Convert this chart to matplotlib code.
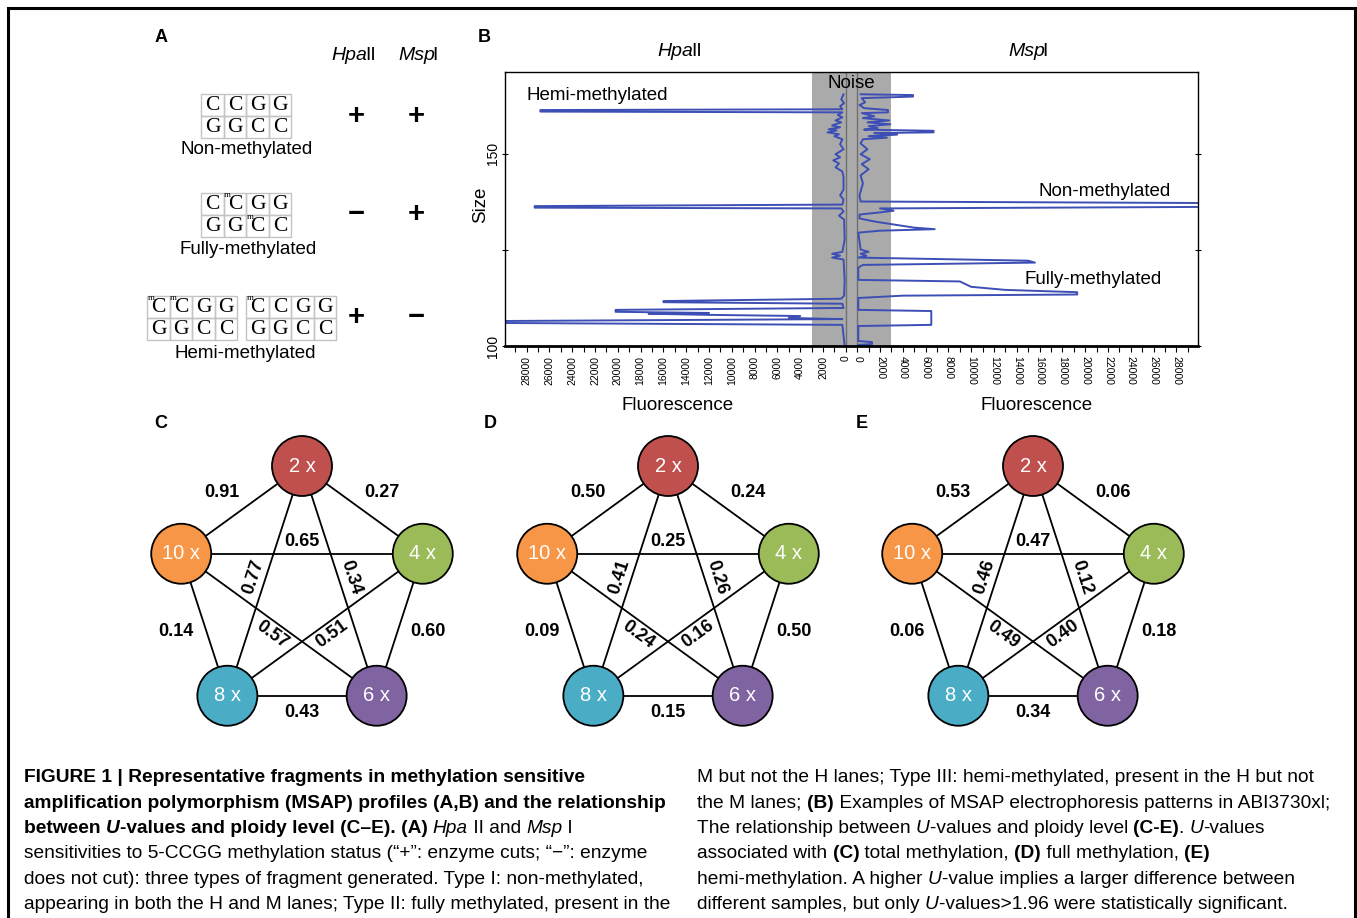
import matplotlib
matplotlib.use('Agg')
import matplotlib.pyplot as plt
from matplotlib.patches import Circle, Rectangle
import numpy as np

plt.rcParams['font.family'] = ['Liberation Sans', 'DejaVu Sans']

W, H = 1357, 918

# ---------------- panel A: CCGG sites
SITE_NAMES = ['Non-methylated', 'Fully-methylated', 'Hemi-methylated']
TOP_STRAND = ['C', 'C', 'G', 'G']
BOT_STRAND = ['G', 'G', 'C', 'C']
# methylation flags per grid: (top, bottom)
NON_METH = [([0, 0, 0, 0], [0, 0, 0, 0])]
FULL_METH = [([0, 1, 0, 0], [0, 0, 1, 0])]
HEMI_METH = [([1, 1, 0, 0], [0, 0, 0, 0]), ([1, 0, 0, 0], [0, 0, 0, 0])]
HPA_CUT = ['+', '\u2212', '+']
MSP_CUT = ['+', '+', '\u2212']

# ---------------- panel B: electropherogram traces (size in bp, fluorescence)
HPA_SIZE = [165.5, 164.2, 163.2, 162.4, 161.6, 161.4, 161.0, 160.8, 160.1, 159.5,
            158.7, 158.2, 157.4, 156.9, 156.4, 156.1, 155.6, 155.1, 154.6, 153.8,
            152.5, 151.2, 149.9, 149.1, 148.3, 147.5, 146.5, 145.4, 143.9, 140.7,
            139.2, 138.1, 136.8, 136.4, 136.0, 135.8, 135.0, 133.9, 132.9, 127.7,
            124.5, 124.0, 123.5, 123.0, 122.5, 117.2, 113.1, 112.3, 111.7, 111.4,
            111.0, 109.9, 109.4, 108.9, 108.6, 108.4, 108.1, 107.8, 107.3, 107.0,
            106.5, 106.0, 105.5, 100.0]
HPA_FLUOR = [200, 400, 150, 500, 300, 26800, 26800, 300, 700, 300,
             900, 400, 1200, 500, 1500, 800, 1600, 600, 1000, 300,
             500, 200, 900, 500, 1100, 600, 900, 300, 200, 200,
             500, 200, 300, 27300, 27300, 400, 200, 600, 150, 100,
             300, 1200, 500, 1200, 200, 100, 150, 400, 16000, 16000,
             300, 200, 20200, 20200, 12000, 17300, 12000, 4000, 5000, 300,
             30500, 30500, 300, 100]

MSP_SIZE = [165.5, 165.3, 164.9, 164.5, 163.4, 162.7, 161.9, 161.4, 160.8, 160.6,
            159.8, 159.3, 158.7, 158.2, 157.7, 157.2, 156.7, 156.3, 156.0, 155.6,
            155.4, 155.0, 154.6, 154.2, 153.8, 152.7, 151.2, 149.9, 148.6, 147.3,
            146.0, 144.4, 142.3, 139.2, 137.6, 137.2, 136.2, 135.8, 135.2, 134.7,
            134.2, 133.2, 132.4, 130.8, 130.4, 130.0, 129.5, 125.1, 124.5, 124.0,
            123.5, 123.0, 122.2, 121.7, 121.1, 120.4, 117.2, 116.8, 115.4, 114.6,
            114.0, 113.4, 113.1, 112.5, 109.4, 109.1, 105.5, 105.2, 101.3, 101.0,
            100.5, 100.3]
MSP_FLUOR = [300, 4900, 4900, 400, 700, 200, 600, 2700, 2700, 400,
             1500, 500, 2800, 900, 2900, 1000, 1800, 600, 6700, 6700,
             1500, 3500, 1000, 2600, 500, 300, 900, 300, 1100, 400,
             1000, 300, 500, 200, 300, 31000, 31000, 2000, 3200, 1800,
             200, 200, 1500, 5000, 6800, 2000, 100, 300, 1000, 300,
             800, 100, 15000, 15600, 500, 100, 100, 9000, 10000, 13000,
             19300, 19300, 4000, 100, 100, 6500, 6500, 100, 100, 1300,
             1300, 100]
NOISE_LEVEL = 3000
FLUOR_TICKS = list(range(0, 28001, 2000))

# ---------------- panels C-E: U-values between ploidy levels
PLOIDY = ['2 x', '4 x', '6 x', '8 x', '10 x']
NODE_COLORS = ['#c0504d', '#9bbb59', '#8064a2', '#4bacc6', '#f79646']
EDGES = [(0, 4), (0, 1), (4, 1), (0, 3), (0, 2), (4, 3), (1, 2), (4, 2), (1, 3), (3, 2)]
U_TOTAL = [0.91, 0.27, 0.65, 0.77, 0.34, 0.14, 0.60, 0.57, 0.51, 0.43]
U_FULL = [0.50, 0.24, 0.25, 0.41, 0.26, 0.09, 0.50, 0.24, 0.16, 0.15]
U_HEMI = [0.53, 0.06, 0.47, 0.46, 0.12, 0.06, 0.18, 0.49, 0.40, 0.34]

# ---------------- caption
CAPTION_LEFT = [
    [("FIGURE 1 | Representative fragments in methylation sensitive", 'b')],
    [("amplification polymorphism (MSAP) profiles (A,B) and the relationship", 'b')],
    [("between ", 'b'), ("U", 'bi'), ("-values and ploidy level (C\u2013E). (A) ", 'b'),
     ("Hpa", 'i'), (" II and ", 'r'), ("Msp", 'i'), (" I", 'r')],
    [("sensitivities to 5-CCGG methylation status (\u201c+\u201d: enzyme cuts; \u201c\u2212\u201d: enzyme", 'r')],
    [("does not cut): three types of fragment generated. Type I: non-methylated,", 'r')],
    [("appearing in both the H and M lanes; Type II: fully methylated, present in the", 'r')],
]
CAPTION_RIGHT = [
    [("M but not the H lanes; Type III: hemi-methylated, present in the H but not", 'r')],
    [("the M lanes; ", 'r'), ("(B)", 'b'), (" Examples of MSAP electrophoresis patterns in ABI3730xl;", 'r')],
    [("The relationship between ", 'r'), ("U", 'i'), ("-values and ploidy level ", 'r'),
     ("(C-E)", 'b'), (". ", 'r'), ("U", 'i'), ("-values", 'r')],
    [("associated with ", 'r'), ("(C)", 'b'), (" total methylation, ", 'r'), ("(D)", 'b'),
     (" full methylation, ", 'r'), ("(E)", 'b')],
    [("hemi-methylation. A higher ", 'r'), ("U", 'i'), ("-value implies a larger difference between", 'r')],
    [("different samples, but only ", 'r'), ("U", 'i'), ("-values>1.96 were statistically significant.", 'r')],
]

BLUE = '#3d4fb5'

fig = plt.figure(figsize=(W / 100, H / 100), dpi=100)
renderer = fig.canvas.get_renderer()

# panel B axes
axb = fig.add_axes([505 / W, 1 - 346 / H, 693 / W, 274 / H])
# overlay axes in pixel units
ax0 = fig.add_axes([0, 0, 1, 1])
ax0.set_xlim(0, W)
ax0.set_ylim(H, 0)
ax0.axis('off')
ax0.set_zorder(5)
ax0.patch.set_alpha(0)

STYLE = {'r': dict(fontweight='normal', fontstyle='normal'),
         'b': dict(fontweight='bold', fontstyle='normal'),
         'i': dict(fontweight='normal', fontstyle='italic'),
         'bi': dict(fontweight='bold', fontstyle='italic')}


def text_w(s, size, style):
    t = ax0.text(0, 0, s, fontsize=size, **STYLE[style])
    w = t.get_window_extent(renderer).width
    t.remove()
    return w


def run_width(s, size, style, nxt=None):
    if s.endswith(' '):
        return text_w(s + '|', size, style) - text_w('|', size, style)
    w = text_w(s, size, style)
    # close the gap after a multi-letter italic word glued to upright text
    if 'i' in style and len(s) > 1 and nxt is not None and not nxt.startswith(' '):
        w -= 0.15 * size
    return w


def draw_runs(x, y, runs, size, align='left', color='black'):
    widths = [run_width(s, size, st, runs[k + 1][0] if k + 1 < len(runs) else None)
              for k, (s, st) in enumerate(runs)]
    if align == 'center':
        x -= sum(widths) / 2
    for (s, st), w in zip(runs, widths):
        ax0.text(x, y, s, fontsize=size, va='center', ha='left', color=color, **STYLE[st])
        x += w


# ---------- frame
ax0.plot([7.5, 7.5, 1354.5, 1354.5], [H, 7.5, 7.5, H], color='black', lw=2.2,
         solid_joinstyle='miter')

# ---------- panel A
ax0.text(161, 38, 'A', fontsize=13, fontweight='bold', ha='center', va='center')
draw_runs(354, 55, [('Hpa', 'i'), ('II', 'r')], 14, align='center')
draw_runs(418, 55, [('Msp', 'i'), ('I', 'r')], 14, align='center')

CELL_W, CELL_H = 22.5, 21.8
grid_sets = [([201], 94, NON_METH), ([201], 193, FULL_METH), ([147, 246], 296, HEMI_METH)]
label_pos = [(247, 150), (248, 249), (245, 353)]
sign_y = [116, 214, 317]
for k, (xs, y0, meth) in enumerate(grid_sets):
    for x0, (mtop, mbot) in zip(xs, meth):
        for row, (letters, flags) in enumerate([(TOP_STRAND, mtop), (BOT_STRAND, mbot)]):
            for c in range(4):
                cx0 = x0 + c * CELL_W
                cy0 = y0 + row * CELL_H
                ax0.add_patch(Rectangle((cx0, cy0), CELL_W, CELL_H, fill=False,
                                        ec='#c4c4c4', lw=1.0))
                xc, yc = cx0 + CELL_W / 2 + 0.5, cy0 + CELL_H / 2 + 1
                ax0.text(xc, yc, letters[c], fontsize=15.5, family='Liberation Serif',
                         ha='center', va='center')
                if flags[c]:
                    ax0.text(xc - 8, yc - 9.5, 'm', fontsize=6.5, family='Liberation Serif',
                             ha='center', va='center')
    ax0.text(label_pos[k][0], label_pos[k][1], SITE_NAMES[k], fontsize=13.5,
             ha='center', va='center')
    ax0.text(356, sign_y[k], HPA_CUT[k], fontsize=21, fontweight='bold', ha='center', va='center')
    ax0.text(416, sign_y[k], MSP_CUT[k], fontsize=21, fontweight='bold', ha='center', va='center')

# ---------- panel B
OFF = 500
axb.axvspan(-(NOISE_LEVEL + OFF), NOISE_LEVEL + OFF, color='#aaaaaa', lw=0, zorder=0)
axb.axvline(-OFF, color='#707070', lw=1, zorder=1)
axb.axvline(OFF, color='#707070', lw=1, zorder=1)
axb.plot(-(np.array(HPA_FLUOR) + OFF), HPA_SIZE, color=BLUE, lw=1.4, zorder=2)
axb.plot(np.array(MSP_FLUOR) + OFF, MSP_SIZE, color=BLUE, lw=1.4, zorder=2)
axb.set_xlim(-30400, 30400)
axb.set_ylim(100, 171.3)

left_ticks = [-(v + OFF) for v in FLUOR_TICKS[::-1]]
right_ticks = [v + OFF for v in FLUOR_TICKS]
axb.set_xticks(left_ticks + right_ticks)
tick_labels = axb.set_xticklabels([str(v) for v in FLUOR_TICKS[::-1]] + [str(v) for v in FLUOR_TICKS],
                                  fontsize=7.5)
for i, lab in enumerate(tick_labels):
    lab.set_rotation(90 if i < len(FLUOR_TICKS) else 270)
minor = [-(v + OFF) for v in range(1000, 30000, 2000)] + [v + OFF for v in range(1000, 30000, 2000)]
axb.set_xticks(minor, minor=True)
axb.tick_params(axis='x', which='both', direction='out', length=4, width=0.8, pad=3)

axb.set_yticks([100, 125, 150])
axb.set_yticklabels(['100', '', '150'], rotation=90, va='center', fontsize=10)
axb.tick_params(axis='y', direction='inout', length=5, width=0.8, right=True, pad=1)
for side in ['top', 'left', 'right']:
    axb.spines[side].set_linewidth(1.0)
axb.spines['bottom'].set_linewidth(2.0)

ax0.text(484, 37, 'B', fontsize=13, fontweight='bold', ha='center', va='center')
draw_runs(680, 52, [('Hpa', 'i'), ('II', 'r')], 14, align='center')
draw_runs(1028, 52, [('Msp', 'i'), ('I', 'r')], 14, align='center')
ax0.text(851, 83, 'Noise', fontsize=13.5, ha='center', va='center')
ax0.text(527, 95, 'Hemi-methylated', fontsize=13.5, ha='left', va='center')
ax0.text(1039, 192, 'Non-methylated', fontsize=13.5, ha='left', va='center')
ax0.text(1024, 279, 'Fully-methylated', fontsize=13.5, ha='left', va='center')
ax0.text(481, 205, 'Size', fontsize=13.5, rotation=90, ha='center', va='center')
ax0.text(678, 405, 'Fluorescence', fontsize=13.5, ha='center', va='center')
ax0.text(1037, 405, 'Fluorescence', fontsize=13.5, ha='center', va='center')

# ---------- panels C-E
R, CY, NODE_R = 127, 593, 30
ANGLES = [90, 18, -54, -126, 162]


def draw_network(cx, values):
    pos = [(cx + R * np.cos(np.radians(a)), CY - R * np.sin(np.radians(a))) for a in ANGLES]
    for (i, j), val in zip(EDGES, values):
        (x1, y1), (x2, y2) = pos[i], pos[j]
        ax0.plot([x1, x2], [y1, y2], color='black', lw=1.3, zorder=1)
        mx, my = (x1 + x2) / 2, (y1 + y2) / 2
        dx, dy = x2 - x1, y2 - y1
        L = np.hypot(dx, dy)
        nx, ny = -dy / L, dx / L
        if nx * (mx - cx) + ny * (my - CY) < 0:
            nx, ny = -nx, -ny
        horizontal = abs(dy) < 1
        outer = abs(i - j) in (1, 4)
        push = 0
        if outer:
            rot = 0
            if horizontal:
                d = 17
            else:
                d = 22
                push = 7 * np.sign(nx)
        else:
            d = 12
            ang = np.degrees(np.arctan2(-dy, dx))
            if ang > 90:
                ang -= 180
            elif ang <= -90:
                ang += 180
            rot = 0 if horizontal else ang
        ax0.text(mx + d * nx + push, my + d * ny, f'{val:.2f}', fontsize=13, fontweight='bold',
                 ha='center', va='center', rotation=rot, rotation_mode='anchor', zorder=2)
    for (x, y), name, col in zip(pos, PLOIDY, NODE_COLORS):
        ax0.add_patch(Circle((x, y), NODE_R, facecolor=col, edgecolor='black', lw=1.3, zorder=3))
        ax0.text(x, y, name, fontsize=14.5, color='white', ha='center', va='center', zorder=4)


for cx, vals, letter, lx in [(302, U_TOTAL, 'C', 161), (668, U_FULL, 'D', 490), (1033, U_HEMI, 'E', 862)]:
    draw_network(cx, vals)
    ax0.text(lx, 424, letter, fontsize=13, fontweight='bold', ha='center', va='center')

# ---------- caption
LINE_Y = [778, 803.3, 828.6, 853.9, 879.2, 904.5]
for y, runs in zip(LINE_Y, CAPTION_LEFT):
    draw_runs(24, y, runs, 13.8)
for y, runs in zip(LINE_Y, CAPTION_RIGHT):
    draw_runs(697, y, runs, 13.8)

fig.savefig('out.png', dpi=100)
